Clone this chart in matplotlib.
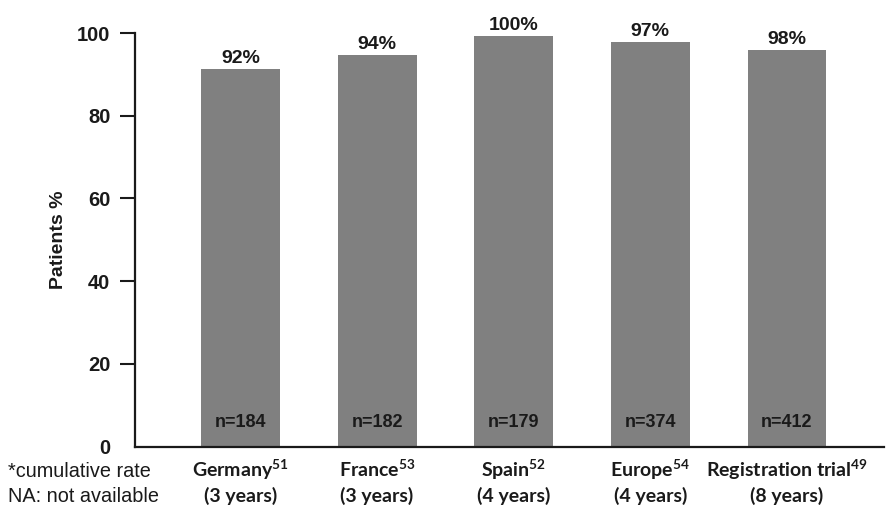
import matplotlib
matplotlib.use('Agg')
import matplotlib.pyplot as plt
import numpy as np

# Data
regions = ['Germany', 'France', 'Spain', 'Europe', 'Registration trial']
refs = ['51', '53', '52', '54', '49']
periods = ['(3 years)', '(3 years)', '(4 years)', '(4 years)', '(8 years)']
bar_heights = [91.3, 94.7, 99.3, 97.8, 95.9]
pct_labels = ['92%', '94%', '100%', '97%', '98%']
n_patients = [184, 182, 179, 374, 412]
yticks = [0, 20, 40, 60, 80, 100]
footnotes = ['*cumulative rate', 'NA: not available']

plt.rcParams['font.family'] = ['Liberation Sans', 'DejaVu Sans']
plt.rcParams['mathtext.fontset'] = 'custom'
plt.rcParams['mathtext.rm'] = 'Lato:bold'
plt.rcParams['mathtext.it'] = 'Lato:bold'
plt.rcParams['mathtext.bf'] = 'Lato:bold'
plt.rcParams['mathtext.default'] = 'rm'

ink = '#1a1a1a'
bar_color = '#808080'

fig = plt.figure(figsize=(8.87, 5.05), dpi=100)
ax = fig.add_axes([135/887, 58.3/505, 749/887, 413.7/505])

x = np.arange(len(regions))
ax.bar(x, bar_heights, width=0.578, color=bar_color, zorder=2)

ax.set_xlim(-0.772, 4.71)
ax.set_ylim(0, 100)
ax.set_yticks(yticks)
ax.set_yticklabels([str(v) for v in yticks], fontsize=14.5, fontweight='bold', color=ink)
ax.tick_params(axis='y', length=10.8, width=1.5, pad=7, colors=ink)
ax.yaxis.get_major_ticks()[0].tick1line.set_visible(False)
ax.set_xticks([])

for s in ['top', 'right']:
    ax.spines[s].set_visible(False)
for s in ['left', 'bottom']:
    ax.spines[s].set_linewidth(1.6)
    ax.spines[s].set_color(ink)

ax.set_ylabel('Patients %', fontsize=14, fontweight='bold', color=ink, labelpad=7)

# percentages above bars
for xi, h, lab in zip(x, bar_heights, pct_labels):
    ax.annotate(lab, xy=(xi, h), xytext=(0, 4.5), textcoords='offset points',
                ha='center', va='baseline', fontsize=14, fontweight='bold', color=ink)

# sample sizes inside bars
for xi, n in zip(x, n_patients):
    ax.annotate(f'n={n}', xy=(xi, 0), xytext=(0, 14.4), textcoords='offset points',
                ha='center', va='baseline', fontsize=13, fontweight='bold', color=ink)

# category labels (two lines)
for xi, name, ref, per in zip(x, regions, refs, periods):
    ax.annotate(f'{name}$^{{{ref}}}$', xy=(xi, 0), xycoords=('data', 'axes fraction'),
                xytext=(0, -21.6), textcoords='offset points', ha='center', va='baseline',
                fontsize=14, fontweight='bold', family='Lato', color=ink,
                annotation_clip=False)
    ax.annotate(per, xy=(xi, 0), xycoords=('data', 'axes fraction'),
                xytext=(0, -40), textcoords='offset points', ha='center', va='baseline',
                fontsize=14, fontweight='bold', family='Lato', color=ink,
                annotation_clip=False)

fig.text(8.3/887, (505 - 476.7)/505, footnotes[0], fontsize=14.3, color=ink, va='baseline')
fig.text(8.3/887, (505 - 502.3)/505, footnotes[1], fontsize=14.3, color=ink, va='baseline')

fig.savefig('out.png', dpi=100)
